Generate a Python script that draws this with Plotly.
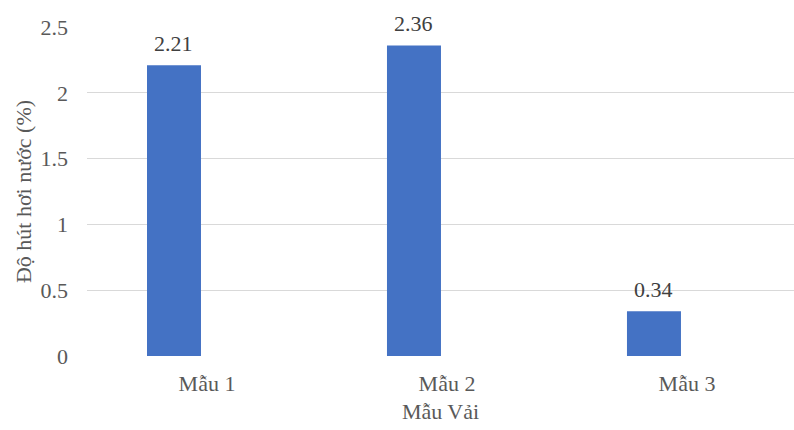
import plotly.graph_objects as go

categories = ["Mẫu 1", "Mẫu 2", "Mẫu 3"]
values = [2.21, 2.36, 0.34]
value_labels = ["2.21", "2.36", "0.34"]
y_ticks = [0, 0.5, 1, 1.5, 2, 2.5]
y_tick_labels = ["0", "0.5", "1", "1.5", "2", "2.5"]

font_family = "Times New Roman"
grey = "#595959"
bar_width = 0.225
bar_offset = -0.25
cat_px = 240  # pixel width of one category on the axis

fig = go.Figure()
fig.add_trace(go.Bar(
    x=categories, y=values,
    width=bar_width, offset=bar_offset,
    marker=dict(color="#4472C4", line=dict(width=0)),
    hoverinfo="skip",
))

for cat, val, lab in zip(categories, values, value_labels):
    fig.add_annotation(
        x=cat, y=val, text=lab, showarrow=False,
        xanchor="center", yanchor="bottom",
        xshift=(bar_offset + bar_width / 2) * cat_px, yshift=7,
        font=dict(family=font_family, size=22, color="#404040"),
    )

fig.update_layout(
    width=794, height=430,
    margin=dict(l=87, r=0, t=27, b=74),
    paper_bgcolor="white", plot_bgcolor="white",
    showlegend=False,
    font=dict(family=font_family, size=22, color=grey),
    xaxis=dict(
        range=[-0.5, 2.446],
        showgrid=False, zeroline=False, showline=False,
        ticks="", ticklabelstandoff=12,
        tickfont=dict(family=font_family, size=22, color=grey),
        title=dict(text="Mẫu Vải", font=dict(family=font_family, size=22, color=grey), standoff=8),
    ),
    yaxis=dict(
        range=[0, 2.5],
        tickvals=y_ticks, ticktext=y_tick_labels,
        showgrid=True, gridcolor="#D9D9D9", gridwidth=1.3,
        zeroline=False, showline=False,
        ticks="", ticklabelstandoff=18,
        tickfont=dict(family=font_family, size=22, color=grey),
        title=dict(text="Độ hút hơi nước (%)", font=dict(family=font_family, size=22, color=grey), standoff=2),
    ),
)

fig.write_html("out.html")
